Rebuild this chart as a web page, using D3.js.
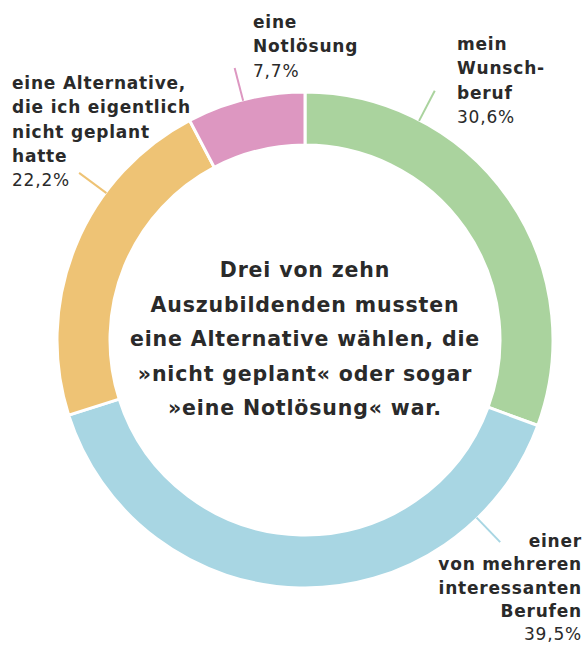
<!DOCTYPE html>
<html>
<head>
<meta charset="utf-8">
<script src="https://cdn.jsdelivr.net/npm/d3@7"></script>
<style>
  html, body { margin: 0; padding: 0; background: #fff; }
  svg { display: block; }
  text { font-family: "DejaVu Sans", sans-serif; fill: #2a2a2a; }
</style>
</head>
<body>
<svg id="chart" width="587" height="647"></svg>
<script>
// Answer categories (clockwise from the top)
const categories = [
  "mein Wunschberuf",
  "einer von mehreren interessanten Berufen",
  "eine Alternative, die ich eigentlich nicht geplant hatte",
  "eine Notlösung"
];
// Share of trainees, in percent
const shares = [30.6, 39.5, 22.2, 7.7];
const colors = ["#aad39e", "#a8d6e3", "#eec375", "#dd97c1"];

// Label lines as shown next to the ring
const labelLines = [
  ["mein", "Wunsch-", "beruf"],
  ["einer", "von mehreren", "interessanten", "Berufen"],
  ["eine Alternative,", "die ich eigentlich", "nicht geplant", "hatte"],
  ["eine", "Notlösung"]
];
const centerLines = [
  "Drei von zehn",
  "Auszubildenden mussten",
  "eine Alternative wählen, die",
  "»nicht geplant« oder sogar",
  "»eine Notlösung« war."
];

const fmt = v => d3.format(".1f")(v).replace(".", ",") + "%";

const svg = d3.select("#chart");
const cx = 305, cy = 340;
const outerR = 248, innerR = 195;

const pie = d3.pie().sort(null).value(d => d.value);
const arcs = pie(shares.map((v, i) => ({ value: v, i })));
const arc = d3.arc().innerRadius(innerR).outerRadius(outerR);

const g = svg.append("g").attr("transform", `translate(${cx},${cy})`);

g.selectAll("path.slice")
  .data(arcs)
  .join("path")
  .attr("class", "slice")
  .attr("d", arc)
  .attr("fill", d => colors[d.data.i])
  .attr("stroke", "#fff")
  .attr("stroke-width", 3);

// Leader lines: angle (degrees clockwise from top) where each label points at the ring
const leaderAngles = [27.5, 136, 306.5, 345.5];
const leader = d3.lineRadial().angle(d => d[0]).radius(d => d[1]);
g.selectAll("path.leader")
  .data(leaderAngles)
  .join("path")
  .attr("class", "leader")
  .attr("d", a => leader([[a * Math.PI / 180, outerR - 1], [a * Math.PI / 180, outerR + 33]]))
  .attr("stroke", (a, i) => colors[i])
  .attr("stroke-width", 2)
  .attr("fill", "none");

// Outside labels
const labelPos = [
  { x: 457, y: 50, anchor: "start", lh: 24.3 },
  { x: 582, y: 547, anchor: "end", lh: 23.3 },
  { x: 12, y: 89, anchor: "start", lh: 24.3 },
  { x: 253, y: 28, anchor: "start", lh: 24.3 }
];
labelLines.forEach((lines, i) => {
  const p = labelPos[i];
  const t = svg.append("text")
    .attr("x", p.x).attr("y", p.y)
    .attr("text-anchor", p.anchor)
    .style("font-size", "17px")
    .style("letter-spacing", "0.8px");
  lines.forEach((ln, k) => {
    t.append("tspan").attr("x", p.x).attr("y", p.y + k * p.lh)
      .style("font-weight", 700).text(ln);
  });
  t.append("tspan").attr("x", p.x).attr("y", p.y + lines.length * p.lh)
    .style("font-weight", 400).text(fmt(shares[i]));
});

// Central statement
const ct = svg.append("text")
  .attr("text-anchor", "middle")
  .style("font-size", "20.5px")
  .style("font-weight", 700)
  .style("letter-spacing", "0.85px");
centerLines.forEach((ln, k) => {
  ct.append("tspan").attr("x", cx).attr("y", 277 + k * 34.6).text(ln);
});
</script>
</body>
</html>
